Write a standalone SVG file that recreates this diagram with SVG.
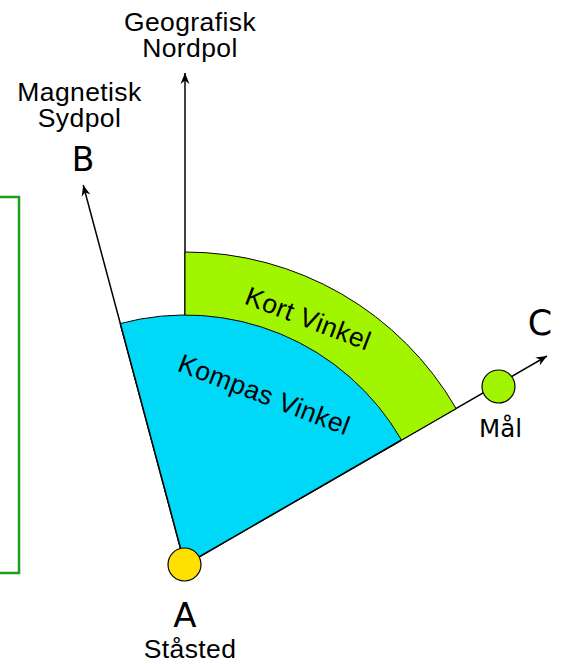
<svg xmlns="http://www.w3.org/2000/svg" width="561" height="664" viewBox="0 0 561 664">
  <defs>
    <style>
      .lbl { font-family: "Liberation Sans", Arial, sans-serif; font-size: 26.5px; letter-spacing: 0.4px; fill: #000; text-anchor: middle; }
      .pt { font-family: "DejaVu Sans", "Lucida Grande", sans-serif; fill: #000; text-anchor: middle; }
      .ray { stroke: #000; stroke-width: 1.5; fill: none; marker-end: url(#arrow); }
      .edge { stroke: #000; stroke-width: 1; }
    </style>
    <marker id="arrow" viewBox="-11 -5 12 10" refX="0" refY="0" markerWidth="12" markerHeight="10" markerUnits="userSpaceOnUse" orient="auto">
      <path d="M0,0 L-11,-4.5 L-7.5,0 L-11,4.5 Z" fill="#000"/>
    </marker>
  </defs>
  <rect width="561" height="664" fill="#fff"/>

  <!-- frame on the left edge -->
  <rect id="frame" x="-10" y="197" width="29" height="376" fill="none" stroke="#1f9f1f" stroke-width="2.5"/>

  <!-- direction rays from the standpoint A (185,565) -->
  <g id="connectors">
    <line class="ray" x1="185" y1="565" x2="185" y2="73"/>
    <line class="ray" x1="185" y1="565" x2="83.2" y2="185"/>
    <line class="ray" x1="185" y1="565" x2="547" y2="356"/>
  </g>

  <!-- angle sectors -->
  <g id="kort-vinkel">
    <path class="edge" d="M185,565 L185,252 A313,313 0 0 1 456.07,408.5 Z" fill="#a2f500"/>
    <text class="lbl" transform="translate(305,327) rotate(21)">Kort Vinkel</text>
  </g>
  <g id="kompas-vinkel">
    <path d="M185,565 L120.3,323.52 A250,250 0 0 1 401.51,440 Z" fill="#00d8f8"/>
    <path class="edge" fill="none" d="M120.3,323.52 A250,250 0 0 1 401.51,440"/>
    <text class="lbl" transform="translate(261,403) rotate(21)">Kompas Vinkel</text>
  </g>

  <!-- edges of the compass sector drawn over the fill -->
  <g id="sector-edges">
    <line x1="185" y1="565" x2="120.3" y2="323.52" stroke="#000" stroke-width="1.5"/>
    <line x1="185" y1="565" x2="401.51" y2="440" stroke="#000" stroke-width="1.5"/>
  </g>

  <g id="nordpol">
    <text class="lbl" x="190" y="31">Geografisk</text>
    <text class="lbl" x="190" y="57">Nordpol</text>
  </g>
  <g id="B">
    <text class="lbl" x="79.5" y="101">Magnetisk</text>
    <text class="lbl" x="79.5" y="126.5">Sydpol</text>
    <text class="pt" x="83" y="171" font-size="33">B</text>
  </g>
  <g id="C">
    <text class="pt" x="540" y="335" font-size="35">C</text>
  </g>
  <g id="maal">
    <circle cx="498.5" cy="386.5" r="16.5" fill="#a2f500" stroke="#000" stroke-width="1.2"/>
    <text class="pt" x="500.5" y="437" font-size="24.5">Mål</text>
  </g>
  <g id="A">
    <circle cx="184.5" cy="564.5" r="16.5" fill="#ffe000" stroke="#000" stroke-width="1.2"/>
    <text class="pt" x="185" y="627" font-size="34">A</text>
    <text class="lbl" x="190" y="658">Ståsted</text>
  </g>
</svg>
